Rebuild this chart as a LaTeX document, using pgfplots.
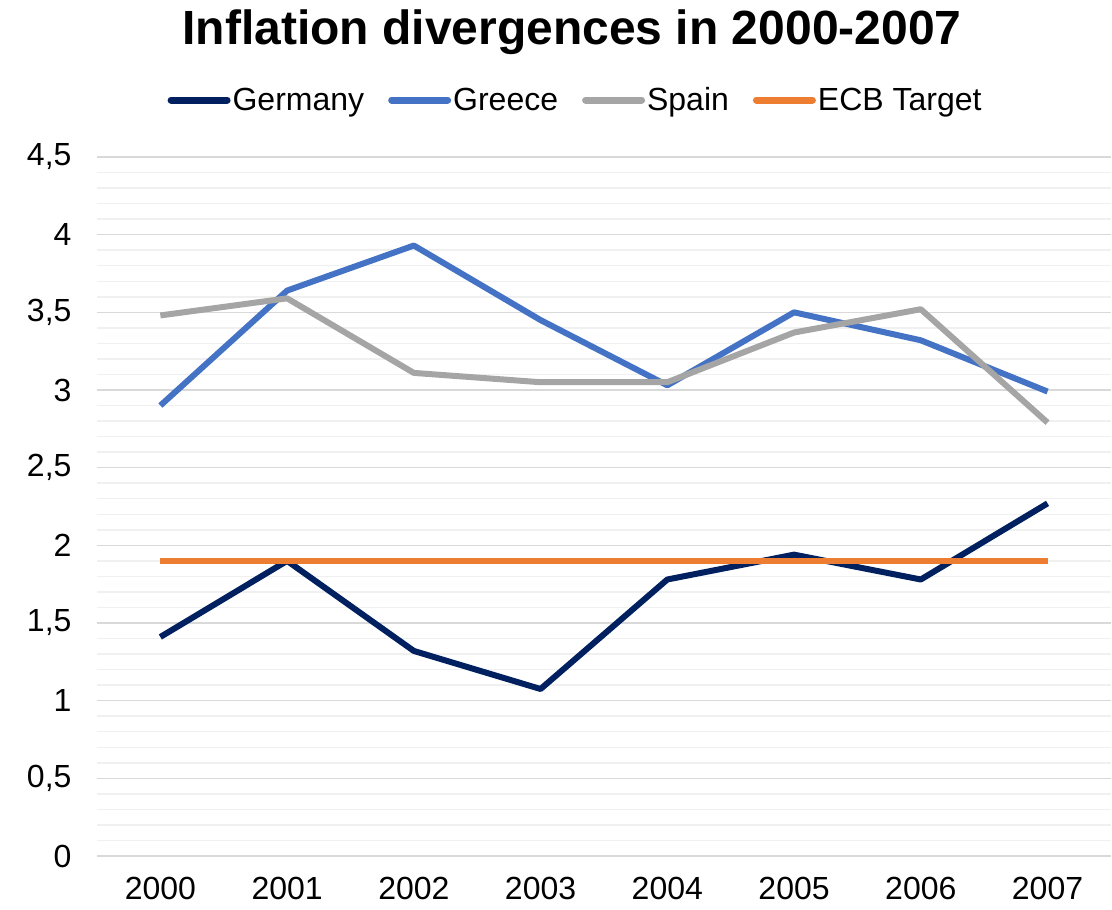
\documentclass[border=0pt]{standalone}
\usepackage{pgfplots}
\pgfplotsset{compat=1.18}
\usepackage{fontspec}
\setmainfont{Liberation Sans}
\definecolor{cGer}{HTML}{002060}
\definecolor{cGre}{HTML}{4472C4}
\definecolor{cSpa}{HTML}{A5A5A5}
\definecolor{cEcb}{HTML}{ED7D31}
\definecolor{cMaj}{HTML}{D9D9D9}
\definecolor{cMin}{HTML}{F0F0F0}
\begin{document}
\begin{tikzpicture}
\path[use as bounding box] (0,0) rectangle (1112bp,910bp);
\begin{axis}[
  at={(97bp,54bp)}, anchor=south west,
  scale only axis, width=1014bp, height=699bp,
  xmin=-0.5, xmax=7.5, ymin=0, ymax=4.5,
  xtick={0,1,2,3,4,5,6,7},
  xticklabels={2000,2001,2002,2003,2004,2005,2006,2007},
  ytick={0,0.5,1,1.5,2,2.5,3,3.5,4,4.5},
  minor y tick num=4,
  ymajorgrids, yminorgrids,
  major grid style={draw=cMaj, line width=1.5bp},
  minor grid style={draw=cMin, line width=1.5bp},
  axis line style={draw=none},
  major tick length=0, minor tick length=0,
  /pgf/number format/use comma,
  /pgf/number format/assume math mode=true,
  ticklabel style={font=\fontsize{32bp}{36bp}\selectfont},
  yticklabel style={xshift=-22bp},
  xticklabel style={yshift=-18bp},
  legend columns=4,
  legend style={at={(0.472,1.0815)}, anchor=center, draw=none, fill=none,
    font=\fontsize{32bp}{36bp}\selectfont,
    /tikz/every even column/.append style={column sep=22bp}},
  legend image code/.code={\draw[#1, line width=7bp, line cap=round] (0bp,0bp) -- (56bp,0bp);},
  every axis plot/.append style={line width=6bp, line join=round},
]
\addplot[cGer, no marks] coordinates {(0,1.41) (1,1.90) (2,1.32) (3,1.075) (4,1.78) (5,1.94) (6,1.78) (7,2.27)};
\addplot[cGre, no marks] coordinates {(0,2.90) (1,3.64) (2,3.93) (3,3.45) (4,3.03) (5,3.50) (6,3.32) (7,2.99)};
\addplot[cSpa, no marks] coordinates {(0,3.48) (1,3.59) (2,3.11) (3,3.05) (4,3.05) (5,3.37) (6,3.52) (7,2.79)};
\addplot[cEcb, no marks] coordinates {(0,1.9) (1,1.9) (2,1.9) (3,1.9) (4,1.9) (5,1.9) (6,1.9) (7,1.9)};
\legend{Germany,Greece,Spain,ECB Target}
\end{axis}
\node[font=\fontsize{48bp}{54bp}\selectfont\bfseries] at (572bp,878bp) {Inflation divergences in 2000-2007};
\end{tikzpicture}
\end{document}
